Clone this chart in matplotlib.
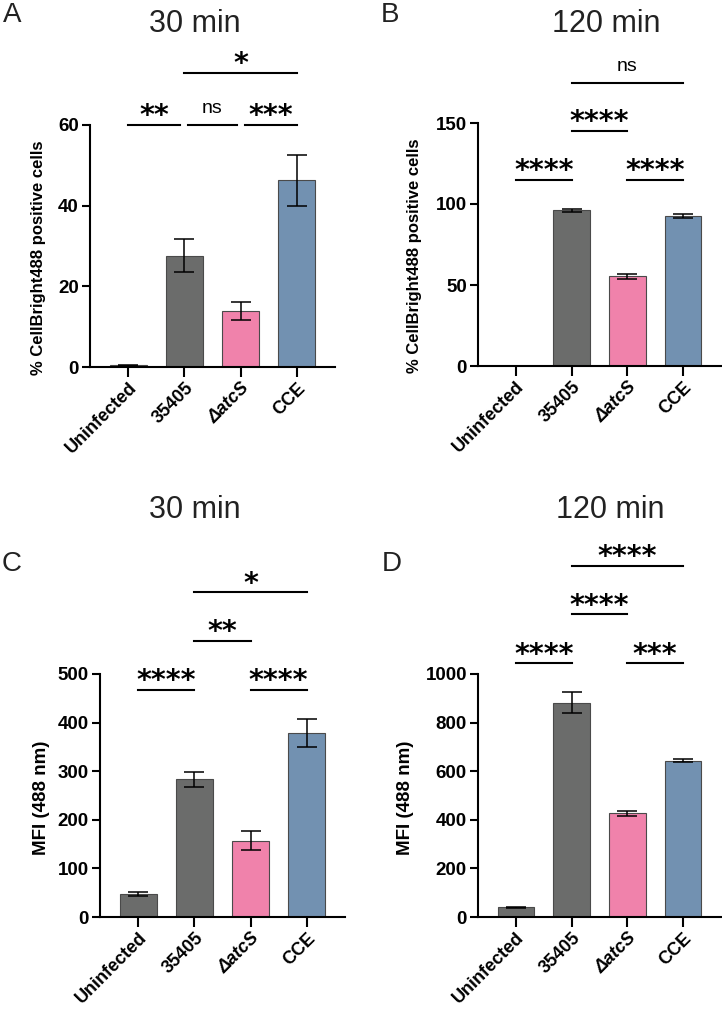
import matplotlib
matplotlib.use("Agg")
import matplotlib.pyplot as plt
from matplotlib.transforms import offset_copy

plt.rcParams['font.family'] = ['Liberation Sans', 'DejaVu Sans']

# ---------------- data ----------------
categories = ['Uninfected', '35405', 'ΔatcS', 'CCE']
bar_colors = ['#6b6c6b', '#6b6c6b', '#f082ab', '#7291b1']

A_mean = [0.4, 27.6, 13.9, 46.3]
A_err = [0.1, 4.1, 2.3, 6.3]
B_mean = [0.2, 96.0, 55.3, 92.6]
B_err = [0.1, 1.0, 1.3, 1.2]
C_mean = [48, 283, 157, 379]
C_err = [4, 16, 20, 29]
D_mean = [40, 882, 427, 644]
D_err = [3, 44, 10, 7]

A_ticks = [0, 20, 40, 60]
B_ticks = [0, 50, 100, 150]
C_ticks = [0, 100, 200, 300, 400, 500]
D_ticks = [0, 200, 400, 600, 800, 1000]

# significance brackets: (group1, group2, height, label)
A_sig = [(0, 1, 60, '**'), (1, 2, 60, 'ns'), (2, 3, 60, '***'), (1, 3, 73, '*')]
B_sig = [(0, 1, 115, '****'), (2, 3, 115, '****'), (1, 2, 145, '****'), (1, 3, 175, 'ns')]
C_sig = [(0, 1, 467, '****'), (2, 3, 467, '****'), (1, 2, 568, '**'), (1, 3, 668, '*')]
D_sig = [(0, 1, 1044, '****'), (2, 3, 1044, '***'), (1, 2, 1246, '****'), (1, 3, 1446, '****')]

W, H = 722, 1009
fig = plt.figure(figsize=(W / 100, H / 100), dpi=100)


def px_axes(left, right, bottom, top):
    return fig.add_axes([left / W, 1 - bottom / H, (right - left) / W, (bottom - top) / H])


def draw_panel(ax, means, errs, ticks, sigs):
    x = list(range(len(categories)))
    ax.bar(x, means, width=0.66, color=bar_colors, edgecolor='#4a4a4a', linewidth=0.8, zorder=2)
    ax.errorbar(x, means, yerr=errs, fmt='none', ecolor='black', elinewidth=1.1,
                capsize=7, capthick=1.1, zorder=3)
    ax.set_xlim(-0.68, 3.68)
    ax.set_ylim(0, ticks[-1])
    ax.set_yticks(ticks)
    ax.set_xticks(x)
    ax.set_xticklabels(categories)
    for lab in ax.get_xticklabels():
        lab.set_rotation(45)
        lab.set_ha('right')
        lab.set_va('top')
        lab.set_rotation_mode('anchor')
        lab.set_fontweight('bold')
        lab.set_fontsize(13)
        if lab.get_text().startswith('Δ'):
            lab.set_fontstyle('italic')
    for lab in ax.get_yticklabels():
        lab.set_fontweight('bold')
        lab.set_fontsize(13.5)
    for s in ['top', 'right']:
        ax.spines[s].set_visible(False)
    for s in ['left', 'bottom']:
        ax.spines[s].set_linewidth(1.5)
    ax.tick_params(axis='y', length=6, width=1.5, pad=2)
    ax.tick_params(axis='x', length=7, width=1.5, pad=2)
    ax.patch.set_visible(False)

    # brackets
    for (g1, g2, yv, txt) in sigs:
        x1, x2 = float(g1), float(g2)
        for (h1, h2, yv2, _t) in sigs:
            if (h1, h2) == (g1, g2) or yv2 != yv:
                continue
            if g1 in (h1, h2):
                x1 += 0.07
            if g2 in (h1, h2):
                x2 -= 0.07
        ax.plot([x1, x2], [yv, yv], color='black', lw=1.5, clip_on=False, zorder=4)
        tr = offset_copy(ax.transData, fig=fig, x=0, y=(8.5 if txt == 'ns' else 0.5), units='points')
        if txt == 'ns':
            ax.text((x1 + x2) / 2, yv, txt, transform=tr, ha='center', va='baseline',
                    fontsize=14, clip_on=False)
        else:
            ax.text((x1 + x2) / 2, yv, txt, transform=tr, ha='center', va='baseline',
                    fontsize=20.5, fontweight='bold', family=['DejaVu Sans'], clip_on=False)


axA = px_axes(90, 335, 367, 125)
axB = px_axes(478, 721, 366, 123)
axC = px_axes(100, 345, 917, 674)
axD = px_axes(478, 721, 917, 674)

draw_panel(axA, A_mean, A_err, A_ticks, A_sig)
draw_panel(axB, B_mean, B_err, B_ticks, B_sig)
draw_panel(axC, C_mean, C_err, C_ticks, C_sig)
draw_panel(axD, D_mean, D_err, D_ticks, D_sig)


def ftext(xp, yp, s, **kw):
    fig.text(xp / W, 1 - yp / H, s, **kw)


# y labels
ftext(39, 258, '% CellBright488 positive cells', rotation=90, ha='center', va='center',
      fontsize=12, fontweight='bold')
ftext(415, 256, '% CellBright488 positive cells', rotation=90, ha='center', va='center',
      fontsize=12, fontweight='bold')
ftext(41, 798, 'MFI (488 nm)', rotation=90, ha='center', va='center',
      fontsize=13.5, fontweight='bold')
ftext(406, 798, 'MFI (488 nm)', rotation=90, ha='center', va='center',
      fontsize=13.5, fontweight='bold')

# titles
ftext(195, 24, '30 min', ha='center', va='center', fontsize=22, color='#222222')
ftext(606, 24, '120 min', ha='center', va='center', fontsize=22, color='#222222')
ftext(195, 510, '30 min', ha='center', va='center', fontsize=22, color='#222222')
ftext(610, 510, '120 min', ha='center', va='center', fontsize=22, color='#222222')

# panel letters
ftext(12, 15, 'A', ha='center', va='center', fontsize=20, color='#222222')
ftext(390, 15, 'B', ha='center', va='center', fontsize=20, color='#222222')
ftext(12, 564, 'C', ha='center', va='center', fontsize=20, color='#222222')
ftext(392, 564, 'D', ha='center', va='center', fontsize=20, color='#222222')

fig.savefig('out.png', dpi=100, facecolor='white')
